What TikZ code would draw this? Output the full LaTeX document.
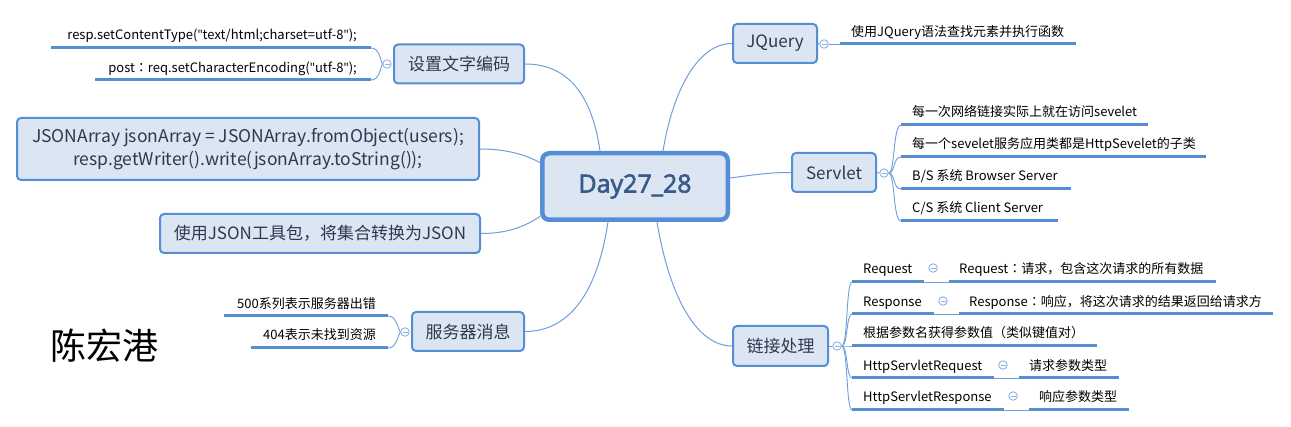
\documentclass[tikz,border=0pt]{standalone}
\usepackage{fontspec}
\setmainfont{Noto Sans CJK SC}
\newfontfamily\dayfont{Open Sans}[AutoFakeBold=2.5]
\newfontfamily\qfont{Open Sans}
\newfontfamily\tcfont{Noto Sans CJK TC}
\newcommand\qmark{{\qfont\char34}}
\newcommand\fcolon{{\tcfont ：}}
\usetikzlibrary{calc}
\definecolor{bord}{HTML}{558ED5}
\definecolor{boxfill}{HTML}{DCE6F2}
\definecolor{conn}{HTML}{6F9FDB}
\definecolor{ulcol}{HTML}{558ED5}
\definecolor{circ}{HTML}{8EB4E3}
\definecolor{ttext}{HTML}{2B3A50}
\definecolor{ctext}{HTML}{3A5A8A}
\tikzset{
 topic/.style={draw=bord, fill=boxfill, line width=2pt, rounded corners=4pt, inner sep=0pt, text=ttext, font=\fontsize{17}{23}\selectfont, minimum height=39pt},
 leaf/.style={inner sep=0pt, font=\fontsize{13}{15}\selectfont, text=black},
 conline/.style={draw=conn, line width=1pt},
 uline/.style={draw=ulcol, line width=3pt},
 thinl/.style={draw=conn, line width=0.9pt},
 collapse/.style={circle, draw=circ, fill=white, line width=0.9pt, minimum size=8.5pt, inner sep=0pt,
   path picture={\draw[circ, line width=0.8pt] ([xshift=-2.5pt]path picture bounding box.center) -- ([xshift=2.5pt]path picture bounding box.center);}},
}
\begin{document}
\begin{tikzpicture}[x=1pt,y=-1pt]
\fill[white] (0,0) rectangle (1291,427);
\useasboundingbox (0,0) rectangle (1291,427);

% central
\node[draw=bord, fill=boxfill, line width=4.5pt, rounded corners=7pt, minimum width=185.5pt, minimum height=66.5pt,
  inner sep=0pt, font=\dayfont\bfseries\fontsize{25}{30}\selectfont, text=ctext] (c) at (635,186.5) {Day27\_28};

% topics
\node[topic, minimum width=130pt] (enc) at (459,64) {设置文字编码};
\node[topic, minimum width=84pt] (jq) at (775,43.5) {JQuery};
\node[topic, minimum width=84pt] (sv) at (834,172.5) {Servlet};
\node[topic, minimum width=95pt, minimum height=40pt] (lj) at (780.5,346) {链接处理};
\node[topic, minimum width=112pt] (fw) at (468,331.5) {服务器消息};
\node[topic, minimum width=462pt, minimum height=62pt, align=center, font=\fontsize{17.5}{23}\selectfont] (ja) at (248,149) {JSONArray jsonArray = JSONArray.fromObject(users);\\resp.getWriter().write(jsonArray.toString());};
\node[topic, minimum width=320pt] (jt) at (320,233.5) {使用JSON工具包，将集合转换为JSON};

\node[font=\fontsize{36}{40}\selectfont, text=black, inner sep=0pt] (name) at (104,346) {陈宏港};

% connectors from central
\coordinate (c1) at ($(c.north west)+(60,0)$);
\coordinate (c2) at ($(c.north west)+(123,0)$);
\coordinate (c3) at ($(c.east)+(0,-8.5)$);
\coordinate (c4) at ($(c.south west)+(117,0)$);
\coordinate (c5) at ($(c.south west)+(68,0)$);
\coordinate (c6) at ($(c.west)+(0,-24)$);
\coordinate (c7) at ($(c.west)+(0,30)$);
\draw[conline] (c1) .. controls (592,95) and (568,64) .. (enc.east);
\draw[conline] (c2) .. controls (673,90) and (698,43.5) .. (jq.west);
\draw[conline] (c3) .. controls (760,174) and (770,172.5) .. (sv.west);
\draw[conline] (c4) .. controls (670,300) and (698,346) .. (lj.west);
\draw[conline] (c5) .. controls (597,295) and (568,331.5) .. (fw.east);
\draw[conline] (c6) .. controls (520,152) and (500,149) .. (ja.east);
\draw[conline] (c7) .. controls (520,230) and (500,233.5) .. (jt.east);

% ---- 设置文字编码 children
\node[collapse] (ke) at (387,64) {};
\node[leaf, anchor=base east] (e1) at (357,40) {resp.setContentType(\qmark text/html;charset=utf-8\qmark);};
\node[leaf, anchor=base east] (e2) at (357,73) {post\fcolon req.setCharacterEncoding(\qmark utf-8\qmark);};
\coordinate (e1a) at (51,48); \coordinate (e1b) at (371,48);
\coordinate (e2a) at (95,80); \coordinate (e2b) at (371,80);
\draw[uline] (e1a) -- (e1b);
\draw[uline] (e2a) -- (e2b);
\draw[thinl] (e1b) .. controls (379,48) and (380,58) .. (ke.west);
\draw[thinl] (e2b) .. controls (379,80) and (380,70) .. (ke.west);

% ---- 服务器消息 children
\node[collapse] (kf) at (405,332) {};
\node[leaf, anchor=base east] (f1) at (376,309) {500系列表示服务器出错};
\node[leaf, anchor=base east] (f2) at (376,340) {404表示未找到资源};
\coordinate (f1a) at (224,316); \coordinate (f1b) at (388,316);
\coordinate (f2a) at (251,348); \coordinate (f2b) at (388,348);
\draw[uline] (f1a) -- (f1b);
\draw[uline] (f2a) -- (f2b);
\draw[thinl] (f1b) .. controls (396,316) and (397,326) .. (kf.west);
\draw[thinl] (f2b) .. controls (396,348) and (397,338) .. (kf.west);

% ---- JQuery child
\node[collapse] (kj) at (824,44) {};
\draw[thinl] (jq.east) -- (kj.west);
\coordinate (j1s) at (840,44); \coordinate (j1e) at (1076,44);
\draw[thinl] (kj.east) -- (j1s);
\draw[uline] (j1s) -- (j1e);
\node[leaf, anchor=base west] (j1) at (851,37) {使用JQuery语法查找元素并执行函数};

% ---- Servlet children
\node[collapse] (ks) at (884,173) {};
\draw[thinl] (sv.east) -- (ks.west);
\node[leaf, anchor=base west] (s1) at (912,117) {每一次网络链接实际上就在访问sevelet};
\node[leaf, anchor=base west] (s2) at (912,149) {每一个sevelet服务应用类都是HttpSevelet的子类};
\node[leaf, anchor=base west] (s3) at (912,181) {B/S 系统 Browser Server};
\node[leaf, anchor=base west] (s4) at (912,213) {C/S 系统 Client Server};
\foreach \n/\y/\e in {1/125/1148, 2/157/1206, 3/189/1071, 4/221/1058}{
  \coordinate (sa\n) at (901,\y); \coordinate (sb\n) at (\e,\y);
  \draw[uline] (sa\n) -- (sb\n);
  \draw[thinl] (ks.east) .. controls (895,173) and (893,\y) .. (sa\n);
}

% ---- 链接处理 children
\node[collapse] (kl) at (837,346) {};
\draw[thinl] (lj.east) -- (kl.west);
\node[leaf, anchor=base west] (l1) at (863,274) {Request};
\node[leaf, anchor=base west] (l2) at (863,307) {Response};
\node[leaf, anchor=base west] (l3) at (863,338) {根据参数名获得参数值（类似键值对）};
\node[leaf, anchor=base west] (l4) at (863,371) {HttpServletRequest};
\node[leaf, anchor=base west] (l5) at (863,402) {HttpServletResponse};
\foreach \n/\y/\e in {1/282/924, 2/314/934, 3/346/1097, 4/378/994, 5/410/1004}{
  \coordinate (la\n) at (852,\y); \coordinate (lb\n) at (\e,\y);
  \draw[uline] (la\n) -- (lb\n);
  \draw[thinl] (kl.east) .. controls (848,346) and (846,\y) .. (la\n);
}
% grandchildren
\node[collapse] (g1) at (933,268) {};
\node[collapse] (g2) at (943,301) {};
\node[collapse] (g4) at (1003,365) {};
\node[collapse] (g5) at (1013,396) {};
\coordinate (ga1) at (949,282); \coordinate (gb1) at (1216,282);
\coordinate (ga2) at (959,314); \coordinate (gb2) at (1273,314);
\coordinate (ga4) at (1019,378); \coordinate (gb4) at (1119,378);
\coordinate (ga5) at (1029,410); \coordinate (gb5) at (1129,410);
\draw[thinl] (lb1) -- (ga1); \draw[uline] (ga1) -- (gb1);
\draw[thinl] (lb2) -- (ga2); \draw[uline] (ga2) -- (gb2);
\draw[thinl] (lb4) -- (ga4); \draw[uline] (ga4) -- (gb4);
\draw[thinl] (lb5) -- (ga5); \draw[uline] (ga5) -- (gb5);
\node[leaf, anchor=base west] (r1) at (959,274) {Request\fcolon 请求，包含这次请求的所有数据};
\node[leaf, anchor=base west] (r2) at (969,307) {Response\fcolon 响应，将这次请求的结果返回给请求方};
\node[leaf, anchor=base west] (r4) at (1029,371) {请求参数类型};
\node[leaf, anchor=base west] (r5) at (1039,402) {响应参数类型};
\end{tikzpicture}
\end{document}
